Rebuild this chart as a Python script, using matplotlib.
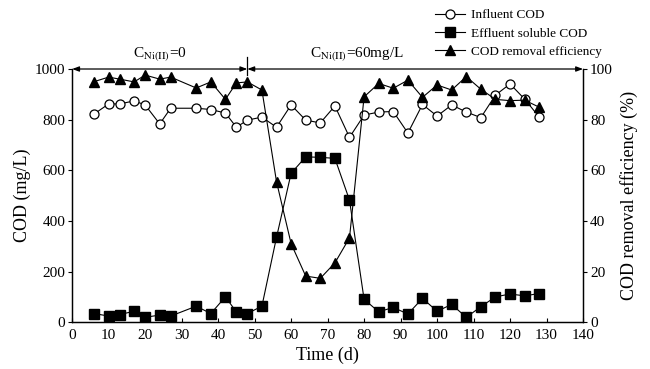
import matplotlib
matplotlib.use('Agg')
import matplotlib.pyplot as plt

plt.rcParams['font.family'] = ['Liberation Serif', 'DejaVu Serif']
plt.rcParams['mathtext.fontset'] = 'stix'

# time (d)
days = [6, 10, 13, 17, 20, 24, 27, 34, 38, 42, 45, 48, 52, 56, 60, 64,
        68, 72, 76, 80, 84, 88, 92, 96, 100, 104, 108, 112, 116, 120, 124, 128]

# COD (mg/L)
influent = [822, 862, 862, 874, 858, 783, 845, 845, 840, 826, 770, 798, 810, 770, 858, 798,
            787, 854, 730, 818, 830, 832, 747, 860, 814, 858, 830, 808, 897, 941, 881, 810]
effluent = [34, 24, 30, 43, 19, 28, 24, 63, 34, 100, 40, 34, 63, 335, 588, 653,
            651, 647, 482, 90, 41, 58, 32, 94, 43, 70, 19, 61, 100, 111, 104, 113]

# removal efficiency (%)
removal = [95, 96.8, 96, 94.9, 97.6, 96, 96.8, 92.5, 94.9, 88, 94.5, 94.9, 91.7, 55.5, 31, 18.2,
           17.3, 23.4, 33.3, 89, 94.3, 92.4, 95.6, 88.8, 93.7, 91.7, 97, 92, 88, 87.5, 87.7, 84.9]

fig = plt.figure(figsize=(6.5, 3.69), dpi=100)
ax = fig.add_axes([0.111, 0.127, 0.786, 0.686])
ax2 = ax.twinx()

l1, = ax.plot(days, influent, '-o', color='black', mfc='white', ms=6.5, lw=0.8, mew=0.9)
l2, = ax.plot(days, effluent, '-s', color='black', ms=6.5, lw=0.8)
l3, = ax2.plot(days, removal, '-^', color='black', ms=7, lw=0.8)

ax.set_xlim(0, 140)
ax.set_ylim(0, 1000)
ax2.set_ylim(0, 100)
ax.set_xticks(range(0, 141, 10))
ax.set_yticks(range(0, 1001, 200))
ax2.set_yticks(range(0, 101, 20))

for a in (ax, ax2):
    a.spines['top'].set_visible(False)
    a.tick_params(labelsize=11, length=3, width=0.8, pad=2)
    for s in a.spines.values():
        s.set_linewidth(0.9)
ax.tick_params(axis='x', direction='in', pad=5)

ax.set_xlabel('Time (d)', fontsize=13, labelpad=3)
ax.set_ylabel('COD (mg/L)', fontsize=13, labelpad=3)
ax2.set_ylabel('COD removal efficiency (%)', fontsize=13, labelpad=5)

# top arrow line marking the two periods
arrow = dict(arrowstyle='<|-|>,head_length=0.4,head_width=0.15', color='black', lw=0.9,
             shrinkA=0, shrinkB=0)
ax.annotate('', xy=(0, 1000), xytext=(48, 1000), xycoords='data', arrowprops=arrow,
            annotation_clip=False)
ax.annotate('', xy=(140, 1000), xytext=(48, 1000), xycoords='data', arrowprops=arrow,
            annotation_clip=False)
ax.plot([48, 48], [975, 1047], color='black', lw=0.9, clip_on=False)
ax.text(24, 1025, r'C$_{\mathrm{Ni(II)}}$=0', ha='center', va='bottom', fontsize=11)
ax.text(78, 1025, r'C$_{\mathrm{Ni(II)}}$=60mg/L', ha='center', va='bottom', fontsize=11)

fig.legend([l1, l2, l3], ['Influent COD', 'Effluent soluble COD', 'COD removal efficiency'],
           loc='upper left', bbox_to_anchor=(0.655, 1.0), frameon=False, fontsize=9.5,
           handlelength=2.3, labelspacing=0.45, handletextpad=0.4, borderpad=0.2)

fig.savefig('out.png', dpi=100)
